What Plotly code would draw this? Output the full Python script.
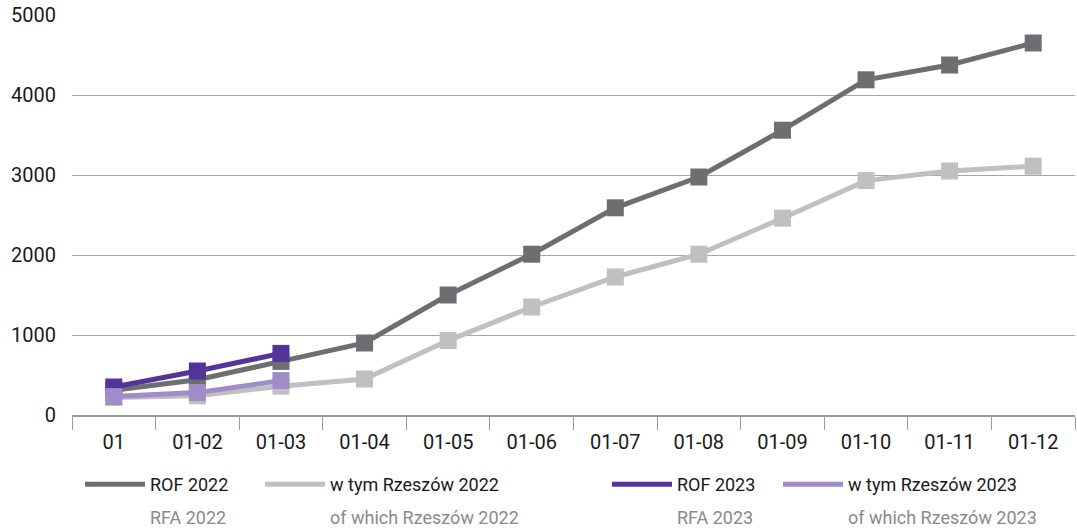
import plotly.graph_objects as go

months = ["01", "01-02", "01-03", "01-04", "01-05", "01-06",
          "01-07", "01-08", "01-09", "01-10", "01-11", "01-12"]

rof_2022 = [310, 440, 670, 900, 1500, 2010, 2590, 2975, 3560, 4190, 4375, 4650]
rze_2022 = [220, 240, 360, 450, 930, 1350, 1725, 2010, 2460, 2930, 3050, 3110]
rof_2023 = [350, 550, 770]
rze_2023 = [230, 280, 430]

names = ["ROF 2022", "w tym Rzeszów 2022", "ROF 2023", "w tym Rzeszów 2023"]
subtitles = ["RFA 2022", "of which Rzeszów 2022", "RFA 2023", "of which Rzeszów 2023"]
values = [rof_2022, rze_2022, rof_2023, rze_2023]
colors = ["#6d6e71", "#bfc0c2", "#54339a", "#a08cc8"]

# page x (px) where each legend label starts
label_px = [150, 330, 677, 848]

FONT = "Roboto, sans-serif"
W, H = 1077, 528
ML, MR, MT, MB = 72, 2, 15, 113
PW, PH = W - ML - MR, H - MT - MB

fig = go.Figure()

for name, vals, color in zip(names, values, colors):
    fig.add_trace(go.Scatter(
        x=months[:len(vals)], y=vals, mode="lines+markers",
        line=dict(color=color, width=5),
        marker=dict(symbol="square", size=17, color=color),
        showlegend=False, name=name,
    ))

legends = {}
for i, (name, sub, color, px) in enumerate(zip(names, subtitles, colors, label_px)):
    key = "legend" if i == 0 else f"legend{i + 1}"
    fig.add_trace(go.Scatter(
        x=[None], y=[None], mode="lines",
        line=dict(color=color, width=5),
        name=name, legend=key,
    ))
    legends[key] = dict(
        xref="container", yref="container",
        x=(px - 70) / W, xanchor="left",
        y=1 - 466 / H, yanchor="top",
        orientation="h", itemwidth=60, bgcolor="rgba(0,0,0,0)",
        font=dict(family=FONT, size=18, color="#1a1a1a"),
    )
    fig.add_annotation(
        xref="paper", yref="paper",
        x=(px - 2 - ML) / PW, xanchor="left",
        y=-(517 - 415) / PH, yanchor="middle",
        text=sub, showarrow=False,
        font=dict(family=FONT, size=18, color="#8a8a8a"),
    )

fig.update_layout(
    width=W, height=H,
    margin=dict(l=ML, r=MR, t=MT, b=MB),
    plot_bgcolor="white", paper_bgcolor="white",
    font=dict(family=FONT, size=18, color="#1a1a1a"),
    showlegend=True,
    **legends,
)

fig.update_xaxes(
    type="category", categoryorder="array", categoryarray=months,
    range=[-0.5, 11.5], automargin=False,
    showline=True, linecolor="#9a9a9a", linewidth=1.5,
    ticks="outside", tickson="boundaries", ticklen=13, tickcolor="#9a9a9a",
    showgrid=False, tickfont=dict(size=20), ticklabelstandoff=8,
)
fig.update_yaxes(
    range=[0, 5000], dtick=1000, showgrid=True, gridcolor="#a6a6a6",
    gridwidth=1, zeroline=False, ticks="", ticklabelstandoff=15,
    ticklabeloverflow="allow",
    automargin=False, tickfont=dict(size=20),
)

# drop the default 8px body margin so the figure sits at the page corner
fig.write_html("out.html", config={"displayModeBar": False},
               post_script="document.body.style.margin = '0';")
